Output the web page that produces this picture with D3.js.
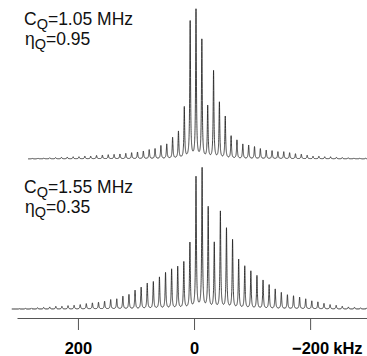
<!DOCTYPE html>
<html><head><meta charset="utf-8">
<script src="https://cdn.jsdelivr.net/npm/d3@7"></script>
<style>body{margin:0;background:#fff;} svg{display:block;}</style>
</head><body>
<svg id="chart" width="367" height="356"></svg>
<script>
// ---- data ----
const tickValues = [200, 0, -200];
const tickLabels = ["200", "0", "\u2212200"];
const axisUnit = "kHz";
const cqLabels = ["1.05 MHz", "1.55 MHz"];
const etaLabels = ["0.95", "0.35"];
const isoShift = [-3.4, -3.4];      // kHz, centre band
const spinRate = [10.08, 10.5];     // kHz, sideband spacing

// spectrum 1 : sideband order (positive = lower frequency, to the right) and relative intensity
const orders1 = [-28,-27,-26,-25,-24,-23,-22,-21,-20,-19,-18,-17,-16,-15,-14,-13,-12,-11,-10,-9,-8,-7,-6,-5,-4,-3,-2,-1,0,1,2,3,4,5,6,7,8,9,10,11,12,13,14,15,16,17,18,19,20,21,22,23,24,25,26,27,28,29];
const heights1 = [0.4,0.6,0.8,1.0,1.2,1.5,1.7,2.0,2.0,2.6,2.6,3.3,3.6,4.0,4.3,4.7,5.3,6.0,6.6,7.6,9.0,10,13,14.5,21,27,51,137,148.5,118.5,52,87.5,56,42,22.5,18.5,14.5,13.5,12,10,8.5,8,7,7,6,5,4.5,3.5,2.5,2.5,2,2,1.5,1.2,1,0.8,0.6,0.5];

// spectrum 2
const orders2 = [-29,-28,-27,-26,-25,-24,-23,-22,-21,-20,-19,-18,-17,-16,-15,-14,-13,-12,-11,-10,-9,-8,-7,-6,-5,-4,-3,-2,-1,0,1,2,3,4,5,6,7,8,9,10,11,12,13,14,15,16,17,18,19,20,21,22,23,24,25,26,27,28];
const heights2 = [0.3,0.6,1,1.3,1.6,2,2.6,2.6,3.3,3.6,4.3,5.3,6,6.6,7.6,9.3,10,12.6,14.3,18.5,21.5,25.5,27,31.5,36,39.5,42,46.5,65.5,131.5,140,101,65.5,97,80,68.5,49,42.5,37.5,33,28.5,24,19.7,16.3,14,13,11.7,10,8,7,5.5,4.3,3.6,2.7,2,1.7,1.2,1];

const spectra = [
  {orders: orders1, heights: heights1, iso: isoShift[0], spin: spinRate[0], start: 286, base: 158.8, cq: cqLabels[0], eta: etaLabels[0], labelY: 25},
  {orders: orders2, heights: heights2, iso: isoShift[1], spin: spinRate[1], start: 314, base: 309, cq: cqLabels[1], eta: etaLabels[1], labelY: 193}
];

// ---- drawing ----
const svg = d3.select("#chart");
const font = "'Liberation Sans', Arial, Helvetica, sans-serif";
const x = d3.scaleLinear().domain([305, -298]).range([17, 367]);
const hw = 0.8; // line half width, kHz

spectra.forEach(s => {
  const y = d3.scaleLinear().domain([0, 150]).range([s.base, s.base - 150]);
  const peaks = s.orders.map((k, i) => ({pos: s.iso - k * s.spin, h: s.heights[i]}));
  const grid = d3.range(s.start, -300, -0.08);
  const pts = grid.map(f => {
    let v = 0;
    for (const p of peaks) { const d = f - p.pos; v += p.h * hw * hw / (d * d + hw * hw); }
    return [f, v];
  });
  svg.append("path")
    .attr("d", d3.line().x(d => x(d[0])).y(d => y(d[1]))(pts))
    .attr("fill", "none").attr("stroke", "#222").attr("stroke-width", 0.85)
    .attr("stroke-linejoin", "round");

  const t1 = svg.append("text").attr("x", 24).attr("y", s.labelY)
    .style("font-family", font).style("font-size", "17.5px").attr("fill", "#111");
  t1.append("tspan").text("C");
  t1.append("tspan").attr("dy", 3.5).style("font-size", "14.5px").text("Q");
  t1.append("tspan").attr("dy", -3.5).text("=" + s.cq);
  const t2 = svg.append("text").attr("x", 25).attr("y", s.labelY + 20)
    .style("font-family", font).style("font-size", "17.5px").attr("fill", "#111");
  t2.append("tspan").text("\u03B7");
  t2.append("tspan").attr("dy", 3.5).style("font-size", "14.5px").text("Q");
  t2.append("tspan").attr("dy", -3.5).text("=" + s.eta);
});

const axisY = 318;
const gAxis = svg.append("g").attr("transform", `translate(0,${axisY})`)
  .call(d3.axisBottom(x).tickValues(tickValues).tickSize(12).tickSizeOuter(0)
    .tickFormat((d, i) => tickLabels[i]));
gAxis.select(".domain").attr("stroke", "#555").attr("stroke-width", 1);
gAxis.selectAll(".tick line").attr("stroke", "#555").attr("stroke-width", 1);
gAxis.selectAll(".tick text").attr("y", 36).attr("dy", 0)
  .style("font-family", font).style("font-size", "16.5px").style("font-weight", "bold").attr("fill", "#000");

const lastTick = gAxis.selectAll(".tick text").filter((d) => d === tickValues[tickValues.length - 1]).node();
const bb = lastTick.getBBox();
svg.append("text").attr("x", x(tickValues[tickValues.length - 1]) + bb.x + bb.width + 4.5).attr("y", axisY + 36)
  .style("font-family", font).style("font-size", "16.5px").style("font-weight", "bold").attr("fill", "#000")
  .text(axisUnit);
</script>
</body></html>
